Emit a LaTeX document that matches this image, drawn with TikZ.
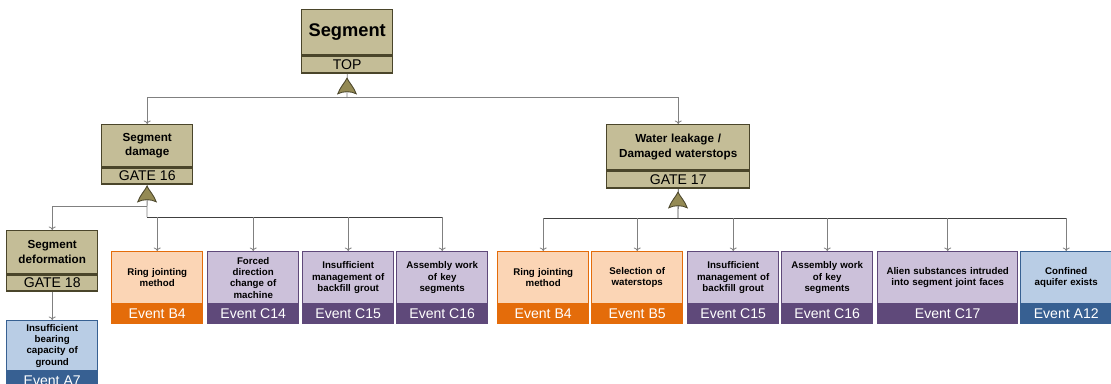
\documentclass[tikz,border=0pt]{standalone}
\usepackage{fontspec}
\setmainfont{Liberation Sans}
\usetikzlibrary{positioning,arrows.meta}

\definecolor{gatefill}{HTML}{C4BD97}
\definecolor{gatedraw}{HTML}{4A452A}
\definecolor{symfill}{HTML}{948A54}
\definecolor{orgfill}{HTML}{FBD5B5}
\definecolor{orgdark}{HTML}{E46C0A}
\definecolor{purfill}{HTML}{CCC1DA}
\definecolor{purdark}{HTML}{5F497A}
\definecolor{blufill}{HTML}{B9CDE5}
\definecolor{bludark}{HTML}{376092}

\tikzset{
  gtop/.style={draw=gatedraw, fill=gatefill, line width=1pt, anchor=north west,
    minimum width=#1, text width=#1, inner sep=0pt, align=center,
    font=\bfseries\fontsize{8.3}{10.3}\selectfont},
  gbot/.style={draw=gatedraw, fill=gatefill, line width=1pt, below=0pt of #1,
    minimum width=2.275cm, minimum height=0.4cm, inner sep=0pt,
    font=\fontsize{10}{10}\selectfont},
  etop/.style={draw=#1dark, fill=#1fill, line width=1pt, anchor=north west,
    minimum width=2.275cm, text width=2.2cm, minimum height=1.3cm, inner sep=0pt,
    align=center, font=\bfseries\fontsize{6.9}{8}\selectfont},
  ebot/.style={draw=#1dark, fill=#1dark, text=white, line width=1pt,
    minimum width=2.275cm, minimum height=0.45cm, inner sep=0pt,
    font=\fontsize{10}{10}\selectfont},
  link/.style={draw=gray, line width=0.6pt},
  bar/.style={draw=black!75, line width=0.6pt},
  orgate/.pic={
    \draw[x=1cm, y=1cm, gatedraw, fill=symfill, line width=0.6pt]
      (-0.23,0.03) .. controls (-0.17,0.2) and (-0.06,0.3) .. (0,0.42)
      .. controls (0.06,0.3) and (0.17,0.2) .. (0.23,0.03)
      .. controls (0.1,0.1) and (-0.1,0.1) .. cycle;}
}

\begin{document}
\begin{tikzpicture}[x=0.025cm, y=-0.025cm, >={To[length=2.5pt,width=5pt]}]
\useasboundingbox (0,0) rectangle (1111,383);

% top event
\node[gtop=2.275cm, minimum height=1.125cm, font=\bfseries\fontsize{13}{14}\selectfont] (topT) at (301,9) {Segment};
\node[gbot=topT, minimum height=0.425cm] (topB) {TOP};

% gates
\node[gtop=2.275cm, minimum height=1.05cm] (dmgT) at (101,124) {Segment\\damage};
\node[gbot=dmgT] (dmgB) {GATE 16};
\node[gtop=3.575cm, minimum height=1.125cm] (leakT) at (606,124) {Water leakage /\\Damaged waterstops};
\node[gbot=leakT, minimum width=3.575cm, minimum height=0.425cm] (leakB) {GATE 17};
\node[gtop=2.275cm, minimum height=1.075cm] (defT) at (6,230) {Segment\\deformation};
\node[gbot=defT] (defB) {GATE 18};

% basic events
\node[etop=blu, minimum height=1.25cm] (gndT) at (6,320) {Insufficient\\bearing\\capacity of\\ground};
\node[ebot=blu, below=0pt of gndT] (gndB) {Event A7};

\foreach \n/\x/\c/\t/\e in {
    rjaT/111/org/{Ring jointing\\method}/B4,
    fdcT/207/pur/{Forced\\direction\\change of\\machine}/C14,
    mbgaT/302/pur/{Insufficient\\management of\\backfill grout}/C15,
    kwaT/396/pur/{Assembly work\\of key\\segments}/C16,
    rjbT/497/org/{Ring jointing\\method}/B4,
    wsT/591/org/{Selection of\\waterstops}/B5,
    mbgbT/687/pur/{Insufficient\\management of\\backfill grout}/C15,
    kwbT/781/pur/{Assembly work\\of key\\segments}/C16,
    aqT/1020/blu/{Confined\\aquifer exists}/A12}{
  \node[etop=\c] (\n) at (\x,251) {\t};
  \node[ebot=\c, below=0pt of \n] {Event \e};
}
\node[etop=pur, minimum width=3.5cm, text width=3.4cm] (alnT) at (877,251) {Alien substances intruded\\into segment joint faces};
\node[ebot=pur, minimum width=3.5cm, below=0pt of alnT] (alnB) {Event C17};

% junctions
\coordinate (j0) at (347,97);
\coordinate (j1a) at (147,206);
\coordinate (j1) at (147,217);
\coordinate (j2) at (678,218);

\draw[link] (topB.south) -- (j0);
\draw[link, ->] (j0) -| (dmgT.north);
\draw[link, ->] (j0) -| (leakT.north);

\draw[link] (dmgB.south) -- (j1);
\draw[link, ->] (j1a) -| (defT.north);
\draw[bar] (j1) -- (kwaT.north |- j1);
\foreach \n in {rjaT, fdcT, mbgaT, kwaT}
  \draw[link, ->] (\n.north |- j1) -- (\n.north);

\draw[link, ->] (defB.south) -- (gndT.north);

\draw[bar] (leakB.south) -- (j2);
\draw[bar] (rjbT.north |- j2) -- (aqT.north |- j2);
\foreach \n in {rjbT, wsT, mbgbT, kwbT, alnT, aqT}
  \draw[link, ->] (\n.north |- j2) -- (\n.north);

% gate symbols
\pic at (347,95) {orgate};
\pic at (147,203) {orgate};
\pic at (678,209) {orgate};
%
\end{tikzpicture}
\end{document}
